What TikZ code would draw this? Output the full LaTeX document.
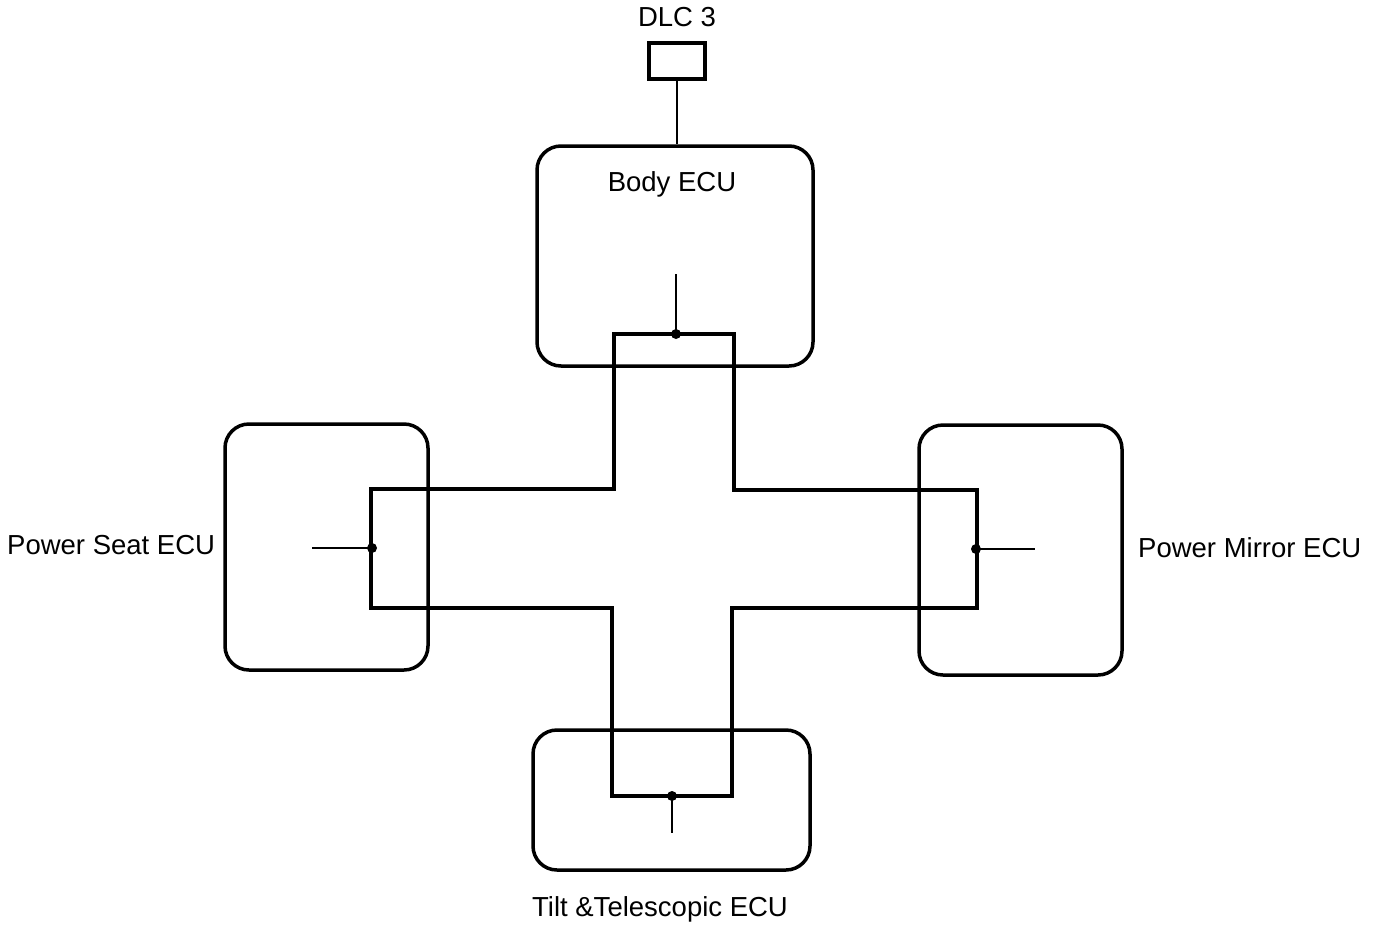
\documentclass[tikz,border=0pt]{standalone}
\usepackage{fontspec}
\setmainfont{Liberation Sans}
\begin{document}
\begin{tikzpicture}[x=1pt,y=-1pt,
  ecu/.style={draw,line width=3.5pt,rounded corners=24pt,inner sep=0pt},
  plain/.style={draw,line width=3.5pt,inner sep=0pt},
  bus/.style={line width=3.5pt},
  stem/.style={line width=2pt},
  lbl/.style={font=\fontsize{27.5}{31}\selectfont,inner sep=0pt},
  jdot/.style={circle,fill,inner sep=0pt,minimum size=10pt}]
\useasboundingbox (0,0) rectangle (1376,930);
% boxes
\node[plain,minimum width=56pt,minimum height=36pt] (dlc) at (677,61) {};
\node[ecu,minimum width=276pt,minimum height=220pt] (body) at (675,256) {};
\node[ecu,minimum width=203pt,minimum height=246pt] (seat) at (326.5,547) {};
\node[ecu,minimum width=203pt,minimum height=250pt] (mirror) at (1020.5,550) {};
\node[ecu,minimum width=277pt,minimum height=140pt] (tilt) at (671.5,800) {};
% labels
\node[lbl] (tdlc) at (677,17) {DLC 3};
\node[lbl] (tbody) at (672,184) {Body ECU};
\node[lbl,anchor=west] (tseat) at (7,545) {Power Seat ECU};
\node[lbl,anchor=west] (tmirror) at (1138,548) {Power Mirror ECU};
\node[lbl] (ttilt) at (660,909) {Tilt \&Telescopic ECU};
% DLC link
\draw[stem] (dlc.south) -- (body.north -| dlc.south);
% cross-shaped bus
\draw[bus,line join=miter] (614,334) -- (734,334) -- (734,490) -- (977,490) -- (977,608)
  -- (732,608) -- (732,796) -- (612,796) -- (612,608) -- (371,608) -- (371,489)
  -- (614,489) -- cycle;
% junctions and stems
\node[jdot] (jb) at (676,334) {};
\coordinate (sb) at (676,274);
\draw[stem] (jb.center) -- (sb);
\node[jdot] (js) at (372,548) {};
\coordinate (ss) at (312,548);
\draw[stem] (js.center) -- (ss);
\node[jdot] (jm) at (976,549) {};
\coordinate (sm) at (1035,549);
\draw[stem] (jm.center) -- (sm);
\node[jdot] (jt) at (672,796) {};
\coordinate (st) at (672,833);
\draw[stem] (jt.center) -- (st);
\end{tikzpicture}
\end{document}
